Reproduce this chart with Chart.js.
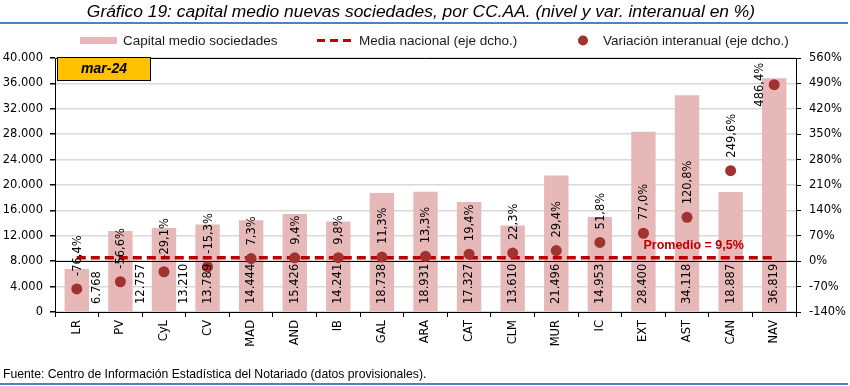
<!DOCTYPE html>
<html>
<head>
<meta charset="utf-8">
<title>Gráfico 19</title>
<script src="https://cdn.jsdelivr.net/npm/chart.js@4.4.1/dist/chart.umd.min.js"></script>
<style>
  html, body { margin: 0; padding: 0; background: #fff; }
  #wrap { width: 850px; height: 386px; position: relative; }
</style>
</head>
<body>
<div id="wrap"><canvas id="chart" width="850" height="386"></canvas></div>
<script>
// --- 1. DATA ---
const regions = ['LR', 'PV', 'CyL', 'CV', 'MAD', 'AND', 'IB', 'GAL', 'ARA', 'CAT', 'CLM', 'MUR', 'IC', 'EXT', 'AST', 'CAN', 'NAV'];
const capitalMedio = [6768, 12757, 13210, 13789, 14444, 15426, 14241, 18738, 18931, 17327, 13610, 21496, 14953, 28400, 34118, 18887, 36819];
const variacion = [-76.4, -56.6, -29.1, -15.3, 7.3, 9.4, 9.8, 11.3, 13.3, 19.4, 22.3, 29.4, 51.8, 77.0, 120.8, 249.6, 486.4];
const mediaNacional = 9.5;
const leftAxis = [0, 40000, 4000];   // min, max, step
const rightAxis = [-140, 560, 70];   // min, max, step (%)
const periodo = 'mar-24';

// --- 2. HELPERS ---
const fmtMiles = v => String(Math.round(v)).replace(/\B(?=(\d{3})+(?!\d))/g, '.');
const fmtPct = v => v.toFixed(1).replace('.', ',') + '%';

const BAR_COLOR = '#E6B9B8';
const LINE_COLOR = '#C00000';
const DOT_COLOR = '#A0322F';
const BLUE = '#4F81BD';
const TICK_FONT = { family: 'DejaVu Sans', size: 11.5 };

// --- 3. CUSTOM DRAWING (labels, title, legend, notes) ---
const decorations = {
  id: 'decorations',
  afterDatasetDraw(chart, args) {
    // black axis line at 0% drawn over the bars, under line and dots
    if (args.index !== 0) return;
    const { ctx, chartArea } = chart;
    const y0 = Math.round(chart.scales.y1.getPixelForValue(0)) + 0.5;
    ctx.save();
    ctx.strokeStyle = '#000';
    ctx.lineWidth = 1;
    ctx.beginPath();
    ctx.moveTo(chartArea.left, y0);
    ctx.lineTo(chartArea.right, y0);
    ctx.stroke();
    ctx.restore();
  },
  afterDatasetsDraw(chart) {
    const { ctx, chartArea } = chart;
    ctx.save();

    // top border of plot
    ctx.strokeStyle = '#000';
    ctx.lineWidth = 1;
    ctx.beginPath();
    ctx.moveTo(chartArea.left, chartArea.top + 0.5);
    ctx.lineTo(chartArea.right, chartArea.top + 0.5);
    ctx.stroke();

    ctx.fillStyle = '#000';
    ctx.font = '11.5px "DejaVu Sans"';

    // bar value labels, rotated, from the base
    const barMeta = chart.getDatasetMeta(0);
    const catW = (chartArea.right - chartArea.left) / regions.length;
    barMeta.data.forEach((bar, i) => {
      const shift = i < 3 ? catW * 0.47 : 0;
      ctx.save();
      ctx.translate(bar.x + shift, chartArea.bottom - 8);
      ctx.rotate(-Math.PI / 2);
      ctx.textAlign = 'left';
      ctx.textBaseline = 'middle';
      ctx.fillText(fmtMiles(capitalMedio[i]), 0, 0);
      ctx.restore();
    });

    // variation labels above the dots (left of the dot when no room)
    const dotMeta = chart.getDatasetMeta(2);
    dotMeta.data.forEach((pt, i) => {
      const txt = fmtPct(variacion[i]);
      const w = ctx.measureText(txt).width;
      ctx.save();
      if (pt.y - 13 - w < chartArea.top) {
        ctx.translate(pt.x - 14, pt.y);
        ctx.rotate(-Math.PI / 2);
        ctx.textAlign = 'center';
      } else {
        ctx.translate(pt.x + 1, pt.y - 13);
        ctx.rotate(-Math.PI / 2);
        ctx.textAlign = 'left';
      }
      ctx.textBaseline = 'middle';
      ctx.fillText(txt, 0, 0);
      ctx.restore();
    });

    // "Promedio" note over the dashed line
    const yMedia = chart.scales.y1.getPixelForValue(mediaNacional);
    const xNote = chart.scales.x.getPixelForValue(regions.indexOf('EXT'));
    ctx.fillStyle = LINE_COLOR;
    ctx.font = 'bold 12.5px "Liberation Sans"';
    ctx.textAlign = 'left';
    ctx.textBaseline = 'middle';
    ctx.fillText('Promedio = ' + fmtPct(mediaNacional), xNote, yMedia - 12);

    // period box
    ctx.fillStyle = '#FFC000';
    ctx.fillRect(chartArea.left + 2, chartArea.top - 1, 93, 23);
    ctx.strokeStyle = '#000';
    ctx.strokeRect(chartArea.left + 2.5, chartArea.top - 0.5, 93, 23);
    ctx.fillStyle = '#000';
    ctx.font = 'italic bold 14px "Liberation Sans"';
    ctx.textAlign = 'center';
    ctx.fillText(periodo, chartArea.left + 49, chartArea.top + 11);

    ctx.restore();
  },
  afterDraw(chart) {
    const { ctx } = chart;
    ctx.save();

    // title + rules
    ctx.fillStyle = '#000';
    ctx.font = 'italic 17.4px "Liberation Sans"';
    ctx.textAlign = 'center';
    ctx.textBaseline = 'middle';
    ctx.fillText('Gráfico 19: capital medio nuevas sociedades, por CC.AA. (nivel y var. interanual en %)', 421, 12);
    ctx.fillStyle = BLUE;
    ctx.fillRect(0, 22, 848, 2);
    ctx.fillRect(0, 383, 848, 2);

    // legend
    ctx.font = '13.5px "Liberation Sans"';
    ctx.textAlign = 'left';
    ctx.fillStyle = BAR_COLOR;
    ctx.fillRect(80, 37, 37, 7);
    ctx.fillStyle = '#1a1a1a';
    ctx.fillText(chart.data.datasets[0].label, 123, 41);

    ctx.strokeStyle = LINE_COLOR;
    ctx.lineWidth = 3;
    ctx.setLineDash([8, 5]);
    ctx.beginPath();
    ctx.moveTo(317, 40.5);
    ctx.lineTo(353, 40.5);
    ctx.stroke();
    ctx.setLineDash([]);
    ctx.fillText(chart.data.datasets[1].label, 359, 41);

    ctx.fillStyle = DOT_COLOR;
    ctx.beginPath();
    ctx.arc(583, 40.5, 5, 0, Math.PI * 2);
    ctx.fill();
    ctx.fillStyle = '#1a1a1a';
    ctx.fillText(chart.data.datasets[2].label, 603, 41);

    // source note
    ctx.fillStyle = '#000';
    ctx.font = '12.2px "Liberation Sans"';
    ctx.fillText('Fuente: Centro de Información Estadística del Notariado (datos provisionales).', 3, 375);

    ctx.restore();
  }
};

// --- 4. CHART ---
const ctx = document.getElementById('chart').getContext('2d');
new Chart(ctx, {
  type: 'bar',
  data: {
    labels: regions,
    datasets: [
      {
        label: 'Capital medio sociedades',
        data: capitalMedio,
        backgroundColor: BAR_COLOR,
        yAxisID: 'y',
        barPercentage: 0.56,
        categoryPercentage: 1,
        order: 3
      },
      {
        type: 'line',
        label: 'Media nacional (eje dcho.)',
        data: regions.map(() => mediaNacional),
        borderColor: LINE_COLOR,
        borderWidth: 3.5,
        borderDash: [9, 5],
        pointRadius: 0,
        yAxisID: 'y1',
        order: 2
      },
      {
        type: 'line',
        label: 'Variación interanual (eje dcho.)',
        data: variacion,
        showLine: false,
        pointRadius: 5.5,
        pointBackgroundColor: DOT_COLOR,
        pointBorderWidth: 0,
        yAxisID: 'y1',
        order: 1
      }
    ]
  },
  options: {
    responsive: false,
    animation: false,
    devicePixelRatio: 1,
    layout: { padding: { top: 58, left: 0, right: 0, bottom: 0 } },
    plugins: {
      legend: { display: false },
      title: { display: false },
      tooltip: { enabled: false }
    },
    scales: {
      x: {
        grid: { offset: true, drawOnChartArea: false, tickLength: 5, tickColor: '#000' },
        border: { color: '#000', width: 1 },
        ticks: { minRotation: 90, maxRotation: 90, autoSkip: false, font: TICK_FONT, color: '#000', padding: 3 },
        afterFit: s => { s.height = 74; }
      },
      y: {
        position: 'left',
        min: leftAxis[0],
        max: leftAxis[1],
        grid: { color: '#D9D9D9', lineWidth: 1.5, tickLength: 5, tickColor: '#000' },
        border: { color: '#000', width: 1 },
        ticks: { stepSize: leftAxis[2], font: TICK_FONT, color: '#000', padding: 7, callback: v => fmtMiles(v) },
        afterFit: s => { s.width = 55; }
      },
      y1: {
        position: 'right',
        min: rightAxis[0],
        max: rightAxis[1],
        grid: { drawOnChartArea: false, tickLength: 5, tickColor: '#000' },
        border: { color: '#000', width: 1 },
        ticks: { stepSize: rightAxis[2], font: TICK_FONT, color: '#000', padding: 8, callback: v => v + '%' },
        afterFit: s => { s.width = 54; }
      }
    }
  },
  plugins: [decorations]
});
</script>
</body>
</html>
